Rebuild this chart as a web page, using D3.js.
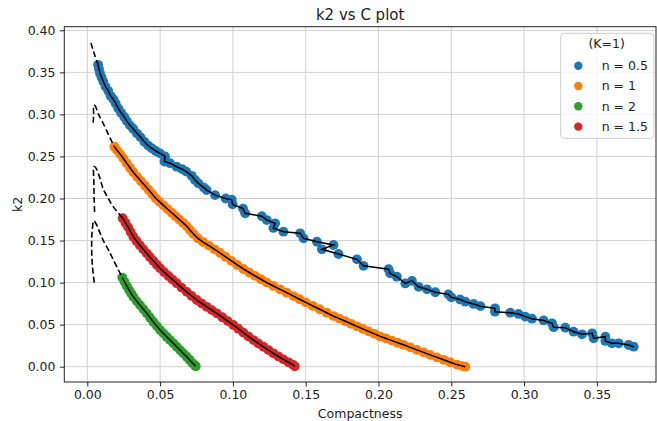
<!DOCTYPE html>
<html>
<head>
<meta charset="utf-8">
<script src="https://cdn.jsdelivr.net/npm/d3@7"></script>
<style>
  body { margin: 0; background: #fff; }
  svg { display: block; font-family: "DejaVu Sans", sans-serif; }
</style>
</head>
<body>
<div id="chart"></div>
<script>
// Data: [Compactness, k2]
const n05Points = [[0.0074,0.359],[0.0080,0.354],[0.0087,0.349],[0.0098,0.344],[0.0110,0.339],[0.0125,0.333],[0.0144,0.328],[0.0160,0.322],[0.0179,0.318],[0.0195,0.313],[0.0213,0.307],[0.0232,0.302],[0.0254,0.297],[0.0272,0.292],[0.0293,0.287],[0.0315,0.283],[0.0340,0.2775],[0.0365,0.273],[0.0392,0.2675],[0.0418,0.263],[0.0443,0.2597],[0.0470,0.2565],[0.0500,0.2537],[0.0534,0.2500],[0.0530,0.2440],[0.0568,0.2420],[0.0614,0.2378],[0.0650,0.2350],[0.0680,0.2320],[0.0717,0.2270],[0.0740,0.2220],[0.0763,0.2180],[0.0800,0.2130],[0.0820,0.2100],[0.0878,0.2040],[0.0950,0.2000],[0.0992,0.1985],[0.0998,0.1930],[0.1070,0.1880],[0.1084,0.1824],[0.1199,0.1790],[0.1233,0.1744],[0.1290,0.1705],[0.1278,0.1650],[0.1347,0.1605],[0.1462,0.1586],[0.1485,0.1527],[0.1577,0.1486],[0.1691,0.1447],[0.1611,0.1396],[0.1725,0.1340],[0.1852,0.1277],[0.1897,0.1200],[0.2069,0.1160],[0.2080,0.1110],[0.2126,0.1070],[0.2184,0.0990],[0.2230,0.1020],[0.2275,0.0950],[0.2333,0.0920],[0.2390,0.0885],[0.2480,0.0860],[0.2500,0.0825],[0.2560,0.0800],[0.2596,0.0773],[0.2653,0.0746],[0.2700,0.0720],[0.2800,0.0694],[0.2800,0.0654],[0.2905,0.0642],[0.2962,0.0627],[0.3008,0.0595],[0.3054,0.0571],[0.3134,0.0550],[0.3192,0.0516],[0.3203,0.0470],[0.3283,0.0464],[0.3340,0.0416],[0.3398,0.0385],[0.3467,0.0397],[0.3478,0.0338],[0.3558,0.0357],[0.3558,0.0306],[0.3604,0.0278],[0.3650,0.0278],[0.3718,0.0258],[0.3753,0.0238]];

const n1Points = [[0.0186,0.2616],[0.0205,0.2572],[0.0226,0.2526],[0.0247,0.2478],[0.0270,0.2420],[0.0293,0.2365],[0.0316,0.2312],[0.0342,0.2258],[0.0369,0.2205],[0.0397,0.2152],[0.0422,0.2102],[0.0446,0.2052],[0.0470,0.2002],[0.0497,0.1960],[0.0525,0.1915],[0.0552,0.1872],[0.0580,0.1830],[0.0606,0.1790],[0.0632,0.1750],[0.0658,0.1710],[0.0683,0.1670],[0.0705,0.1625],[0.0730,0.1578],[0.0760,0.1525],[0.0795,0.1482],[0.0835,0.1440],[0.0875,0.1395],[0.0912,0.1352],[0.0950,0.1305],[0.0990,0.1258],[0.1030,0.1210],[0.1072,0.1162],[0.1112,0.1120],[0.1152,0.1080],[0.1192,0.1040],[0.1233,0.1000],[0.1278,0.0960],[0.1324,0.0920],[0.1370,0.0880],[0.1416,0.0840],[0.1458,0.0802],[0.1500,0.0765],[0.1548,0.0724],[0.1596,0.0683],[0.1644,0.0642],[0.1691,0.0602],[0.1731,0.0572],[0.1772,0.0541],[0.1812,0.0510],[0.1852,0.0480],[0.1892,0.0450],[0.1932,0.0420],[0.1972,0.0390],[0.2012,0.0360],[0.2052,0.0335],[0.2092,0.0310],[0.2132,0.0285],[0.2172,0.0260],[0.2218,0.0230],[0.2264,0.0200],[0.2310,0.0170],[0.2355,0.0140],[0.2401,0.0111],[0.2447,0.0082],[0.2493,0.0053],[0.2539,0.0025],[0.2570,0.0010],[0.2596,0.0000]];

const n2Points = [[0.0240,0.1060],[0.0255,0.1010],[0.0271,0.0960],[0.0287,0.0912],[0.0302,0.0870],[0.0316,0.0832],[0.0339,0.0780],[0.0362,0.0732],[0.0385,0.0683],[0.0408,0.0635],[0.0431,0.0582],[0.0454,0.0532],[0.0477,0.0484],[0.0500,0.0436],[0.0523,0.0396],[0.0545,0.0357],[0.0568,0.0317],[0.0591,0.0278],[0.0614,0.0238],[0.0637,0.0198],[0.0660,0.0158],[0.0683,0.0119],[0.0702,0.0082],[0.0721,0.0045],[0.0740,0.0015],[0.0745,0.0005]];

const n15Points = [[0.0243,0.1765],[0.0262,0.1712],[0.0280,0.1660],[0.0298,0.1602],[0.0316,0.1546],[0.0338,0.1495],[0.0361,0.1445],[0.0384,0.1396],[0.0408,0.1348],[0.0431,0.1302],[0.0454,0.1257],[0.0477,0.1213],[0.0500,0.1170],[0.0528,0.1124],[0.0557,0.1079],[0.0585,0.1035],[0.0614,0.0992],[0.0648,0.0940],[0.0683,0.0890],[0.0717,0.0841],[0.0752,0.0793],[0.0786,0.0752],[0.0820,0.0712],[0.0855,0.0673],[0.0889,0.0635],[0.0927,0.0588],[0.0965,0.0542],[0.1003,0.0496],[0.1037,0.0451],[0.1072,0.0406],[0.1106,0.0361],[0.1141,0.0317],[0.1175,0.0276],[0.1210,0.0237],[0.1244,0.0198],[0.1278,0.0159],[0.1313,0.0122],[0.1347,0.0087],[0.1382,0.0052],[0.1410,0.0025],[0.1425,0.0005]];

// dashed curves towards small compactness
const n05Fit = [[0.0025,0.385],[0.0050,0.371],[0.0074,0.359]];
const n1Fit = [[0.0041,0.290],[0.0043,0.300],[0.0046,0.311],[0.0055,0.310],[0.0075,0.301],[0.0110,0.289],[0.0156,0.272],[0.0186,0.2616]];
const n15Fit = [[0.0050,0.184],[0.0047,0.200],[0.0045,0.220],[0.0046,0.238],[0.0060,0.236],[0.0085,0.225],[0.0110,0.211],[0.0145,0.200],[0.0179,0.190],[0.0243,0.1765]];
const n2Fit = [[0.0048,0.100],[0.0035,0.120],[0.0030,0.140],[0.0033,0.160],[0.0045,0.1735],[0.0060,0.170],[0.0085,0.160],[0.0110,0.150],[0.0145,0.139],[0.0179,0.127],[0.0240,0.106]];

const seriesLabels = ["n = 0.5", "n = 1", "n = 2", "n = 1.5"];
const seriesColors = ["#1f77b4", "#ff7f0e", "#2ca02c", "#d62728"];
const seriesPoints = [n05Points, n1Points, n2Points, n15Points];
const seriesFits = [n05Fit, n1Fit, n2Fit, n15Fit];

const xTicks = [0, 0.05, 0.10, 0.15, 0.20, 0.25, 0.30, 0.35];
const yTicks = [0, 0.05, 0.10, 0.15, 0.20, 0.25, 0.30, 0.35, 0.40];

// Layout
const W = 657, H = 421;
const plotL = 64.3, plotR = 656, plotT = 26.7, plotB = 382;
const fs = 12.5;

const svg = d3.select("#chart").append("svg")
    .attr("width", W)
    .attr("height", H);

const x = d3.scaleLinear().domain([-0.0158, 0.3906]).range([plotL, plotR]);
const y = d3.scaleLinear().domain([-0.0182, 0.4043]).range([plotB, plotT]);

// grid
svg.append("g").selectAll("line")
    .data(xTicks).enter().append("line")
    .attr("x1", d => x(d)).attr("x2", d => x(d))
    .attr("y1", plotT).attr("y2", plotB)
    .attr("stroke", "#d0d0d0").attr("stroke-width", 1);
svg.append("g").selectAll("line")
    .data(yTicks).enter().append("line")
    .attr("x1", plotL).attr("x2", plotR)
    .attr("y1", d => y(d)).attr("y2", d => y(d))
    .attr("stroke", "#d0d0d0").attr("stroke-width", 1);

// axes
const xAxis = svg.append("g")
    .attr("transform", `translate(0,${plotB})`)
    .call(d3.axisBottom(x).tickValues(xTicks).tickFormat(d3.format(".2f")).tickSize(4.4).tickPadding(4.2));
const yAxis = svg.append("g")
    .attr("transform", `translate(${plotL},0)`)
    .call(d3.axisLeft(y).tickValues(yTicks).tickFormat(d3.format(".2f")).tickSize(4.4).tickPadding(4.4));
[xAxis, yAxis].forEach(a => {
    a.select(".domain").remove();
    a.selectAll("text").attr("font-size", fs).attr("font-family", "DejaVu Sans").attr("fill", "#222");
    a.selectAll("line").attr("stroke", "#222");
});

// frame
svg.append("rect")
    .attr("x", plotL).attr("y", plotT)
    .attr("width", plotR - plotL).attr("height", plotB - plotT)
    .attr("fill", "none").attr("stroke", "#222").attr("stroke-width", 1);

const line = d3.line().x(d => x(d[0])).y(d => y(d[1]));
const fitLine = d3.line().x(d => x(d[0])).y(d => y(d[1])).curve(d3.curveCatmullRom);

// series: markers, then black line through them, then dashed fit
seriesPoints.forEach((pts, i) => {
    svg.append("g").selectAll("circle")
        .data(pts).enter().append("circle")
        .attr("cx", d => x(d[0]))
        .attr("cy", d => y(d[1]))
        .attr("r", 4.9)
        .attr("fill", seriesColors[i]);
    svg.append("path")
        .datum(pts)
        .attr("d", line)
        .attr("fill", "none")
        .attr("stroke", "#000")
        .attr("stroke-width", 1.5);
    svg.append("path")
        .datum(seriesFits[i])
        .attr("d", fitLine)
        .attr("fill", "none")
        .attr("stroke", "#000")
        .attr("stroke-width", 1.6)
        .attr("stroke-dasharray", "6,3");
});

// title and labels
svg.append("text")
    .attr("x", (plotL + plotR) / 2).attr("y", 20)
    .attr("text-anchor", "middle")
    .attr("font-size", 15).attr("fill", "#222")
    .text("k2 vs C plot");
svg.append("text")
    .attr("x", (plotL + plotR) / 2).attr("y", 418)
    .attr("text-anchor", "middle")
    .attr("font-size", fs).attr("fill", "#222")
    .text("Compactness");
svg.append("text")
    .attr("transform", `translate(22,${(plotT + plotB) / 2}) rotate(-90)`)
    .attr("text-anchor", "middle")
    .attr("font-size", fs).attr("fill", "#222")
    .text("k2");

// legend
const lg = svg.append("g").attr("transform", "translate(560.7,33.3)");
lg.append("rect")
    .attr("width", 93.3).attr("height", 105)
    .attr("rx", 3.5)
    .attr("fill", "#fff").attr("fill-opacity", 0.8)
    .attr("stroke", "#cccccc").attr("stroke-width", 1);
lg.append("text")
    .attr("x", 46).attr("y", 14.5)
    .attr("text-anchor", "middle")
    .attr("font-size", fs).attr("fill", "#222")
    .text("(K=1)");
seriesLabels.forEach((lab, i) => {
    const yy = 32.4 + i * 20.3;
    lg.append("circle").attr("cx", 17.6).attr("cy", yy).attr("r", 4.2).attr("fill", seriesColors[i]);
    lg.append("text")
        .attr("x", 41).attr("y", yy + 4.5)
        .attr("font-size", fs).attr("fill", "#222")
        .text(lab);
});
</script>
</body>
</html>
